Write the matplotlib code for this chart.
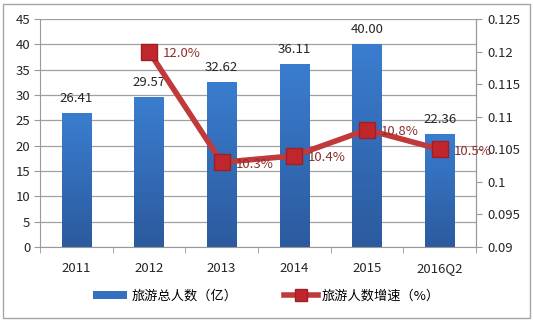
import matplotlib
matplotlib.use("Agg")
import matplotlib.pyplot as plt
import numpy as np
from matplotlib.patches import Rectangle
from matplotlib.lines import Line2D
from matplotlib.colors import LinearSegmentedColormap

plt.rcParams["font.family"] = ["Noto Sans CJK SC", "DejaVu Sans"]

# ── data ─────────────────────────────────────────────────────────────────────
years = ["2011", "2012", "2013", "2014", "2015", "2016Q2"]
tourists = [26.41, 29.57, 32.62, 36.11, 40.00, 22.36]          # 亿人次
growth = [np.nan, 0.120, 0.103, 0.104, 0.108, 0.105]           # 增速
growth_labels = ["", "12.0%", "10.3%", "10.4%", "10.8%", "10.5%"]
left_ticks = [0, 5, 10, 15, 20, 25, 30, 35, 40, 45]
right_ticks = [0.09, 0.095, 0.1, 0.105, 0.11, 0.115, 0.12, 0.125]
right_ticklabels = ["0.09", "0.095", "0.1", "0.105", "0.11", "0.115", "0.12", "0.125"]

W, H = 533, 322
fs = 9.5
fig = plt.figure(figsize=(W / 100, H / 100), dpi=100)
fig.patch.set_facecolor("white")
fig.patches.append(Rectangle((3 / W, 4 / H), 527 / W, 314 / H, transform=fig.transFigure,
                             fill=False, edgecolor="#a6a6a6", linewidth=1.0))

ax = fig.add_axes([40 / W, 1 - 247 / H, 436 / W, 228 / H])
x = np.arange(len(years))
bw = 0.40

# bars with a vertical blue gradient
bars = ax.bar(x, tourists, width=bw, color="#3570c0", zorder=2)
grad = LinearSegmentedColormap.from_list("bar", ["#2c5a9e", "#3a7dcf"])
for b in bars:
    x0, y0 = b.get_x(), b.get_y()
    im = ax.imshow(np.linspace(0, 1, 100).reshape(-1, 1), cmap=grad, origin="lower",
                   extent=[x0, x0 + b.get_width(), y0, y0 + b.get_height()],
                   aspect="auto", zorder=2)
    im.set_clip_path(b)
for xi, v in zip(x, tourists):
    ax.text(xi, v + 1.6, f"{v:.2f}", ha="center", va="bottom", fontsize=fs, color="#262626")

ax.set_xlim(-0.5, len(years) - 0.5)
ax.set_ylim(0, 45)
ax.set_yticks(left_ticks)
ax.set_yticklabels([str(t) for t in left_ticks], fontsize=fs, color="#262626")
ax.set_xticks(x)
ax.set_xticklabels(years, fontsize=fs, color="#262626")
ax.set_xticks(np.arange(-0.5, len(years), 1.0), minor=True)
ax.tick_params(axis="x", which="major", length=0, pad=11)
ax.tick_params(axis="x", which="minor", length=4, color="#999999")
ax.tick_params(axis="y", length=4, color="#999999", pad=3)
ax.grid(axis="y", color="#a0a0a0", linewidth=0.9, zorder=0)
ax.set_axisbelow(True)
ax.spines["top"].set_visible(False)
for s in ["left", "bottom", "right"]:
    ax.spines[s].set_color("#999999")

# growth rate on the secondary axis
ax2 = ax.twinx()
ax2.set_ylim(0.09, 0.125)
ax2.set_yticks(right_ticks)
ax2.set_yticklabels(right_ticklabels, fontsize=fs, color="#262626")
ax2.tick_params(axis="y", length=4, color="#999999", pad=4)
for s in ["top", "left", "bottom"]:
    ax2.spines[s].set_visible(False)
ax2.spines["right"].set_color("#999999")
ax2.plot(x, growth, color="#c0393b", linewidth=4, marker="s", markersize=12,
         markerfacecolor="#c0272d", markeredgecolor="#a01f24", zorder=3)
for xi, v, lab in zip(x, growth, growth_labels):
    if lab:
        ax2.text(xi + 0.19, v - 0.0003, lab, ha="left", va="center", fontsize=fs, color="#8b3030")

handles = [
    Rectangle((0, 0), 1, 1, facecolor="#3570c0"),
    Line2D([0], [0], color="#c0393b", linewidth=4, marker="s", markersize=9,
           markerfacecolor="#c0272d", markeredgecolor="#a01f24"),
]
fig.legend(handles, ["旅游总人数（亿）", "旅游人数增速（%）"], loc="center",
           bbox_to_anchor=(0.5, 1 - 296 / H), ncol=2, frameon=False, fontsize=fs,
           handlelength=2.6, handleheight=0.6, columnspacing=3.5, handletextpad=0.3)

fig.savefig("out.png", dpi=100)
